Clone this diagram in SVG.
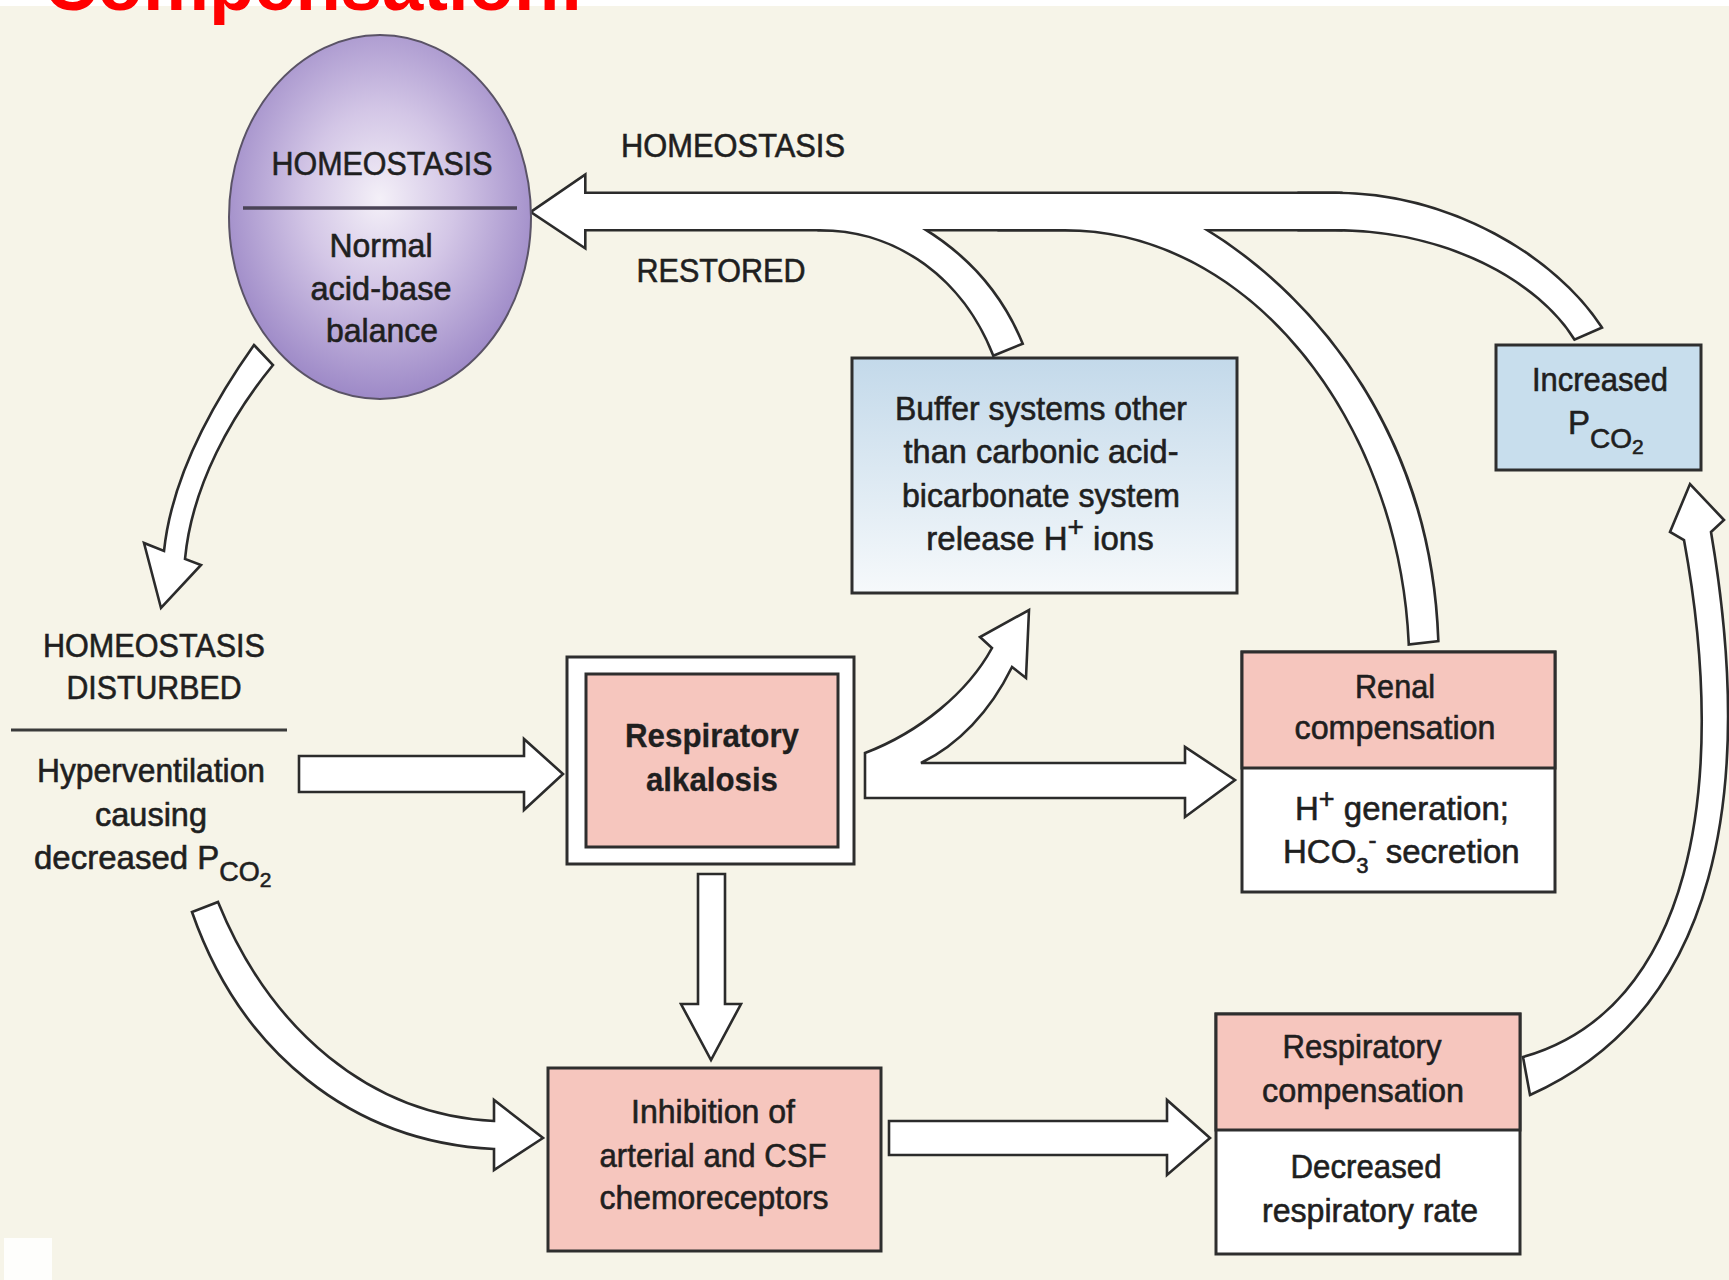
<svg xmlns="http://www.w3.org/2000/svg" xmlns:xlink="http://www.w3.org/1999/xlink" width="1729" height="1280" viewBox="0 0 1729 1280">
<defs>
<style>
.t{font-family:"Liberation Sans",Arial,Helvetica,sans-serif;font-size:33px;fill:#1f1f1f;stroke:#1f1f1f;stroke-width:0.6px;text-anchor:middle}
.s{text-anchor:start}
.b{font-weight:bold;stroke-width:0.3px}
.box{stroke:#2e2e2e;stroke-width:3}
.ar{fill:#fff;stroke:#2b2b2b;stroke-width:2.6;stroke-linejoin:miter}
.pink{fill:#f6c6be}
</style>
<radialGradient id="gCirc" cx="50%" cy="45%" r="55%">
<stop offset="0" stop-color="#f4f0f8"/>
<stop offset="0.45" stop-color="#d3c6e6"/>
<stop offset="1" stop-color="#9d89c7"/>
</radialGradient>
<linearGradient id="gBuf" x1="0" y1="0" x2="0" y2="1">
<stop offset="0" stop-color="#c3d9ea"/>
<stop offset="1" stop-color="#f6f9fb"/>
</linearGradient>
<path id="pMain" d="M 533 212 L 584 177 L 584 194 L 1340 194 L 1340 229 L 584 229 L 584 246 Z"/>
<path id="pBuf" d="M 820 229 C 900 229 965 280 994 354 L 1021 343 C 1000 292 965 255 922 229 L 922 215 L 820 215 Z"/>
<path id="pRen" d="M 1000 229 L 1065 229 C 1250 229 1400 420 1410 643 L 1437 640 C 1430 440 1320 300 1203 229 L 1203 215 L 1000 215 Z"/>
<path id="pInc" d="M 1300 194 L 1335 194 C 1450 194 1555 258 1600 327 L 1575 338 C 1540 282 1450 229 1335 229 L 1300 229 Z"/>
</defs>

<rect x="0" y="0" width="1729" height="1280" fill="#f6f4e8"/>
<rect x="0" y="0" width="1729" height="6" fill="#ffffff"/>
<text x="44" y="10" font-family="Liberation Sans,Arial,sans-serif" font-size="74" font-weight="bold" fill="#ff0000" textLength="540" lengthAdjust="spacingAndGlyphs">Compensation:</text>
<rect x="4" y="1238" width="48" height="42" fill="#ffffff" opacity="0.85"/>

<g id="connectors">
<g id="arrow-restored">
<g fill="#fff" stroke="#2b2b2b" stroke-width="5.2" stroke-linejoin="miter">
<use xlink:href="#pMain"/><use xlink:href="#pBuf"/><use xlink:href="#pRen"/><use xlink:href="#pInc"/>
</g>
<g fill="#fff" stroke="none">
<use xlink:href="#pMain"/><use xlink:href="#pBuf"/><use xlink:href="#pRen"/><use xlink:href="#pInc"/>
</g>
</g>
<path id="arrow-disturbed" class="ar" d="M 254 345 C 215 400 172 475 164 551 L 144 543 L 161 608 L 201 565 L 185 559 C 192 485 232 415 273 365 Z"/>
<path id="arrow-hyper" class="ar" d="M 299 756 L 524 756 L 524 739 L 563 774 L 524 810 L 524 792 L 299 792 Z"/>
<path id="arrow-down" class="ar" d="M 698 874 L 725 874 L 725 1004 L 741 1004 L 711 1060 L 681 1004 L 698 1004 Z"/>
<path id="arrow-inhib" class="ar" d="M 889 1121 L 1167 1121 L 1167 1100 L 1210 1138 L 1167 1175 L 1167 1155 L 889 1155 Z"/>
<path id="arrow-split" class="ar" d="M 865 753 C 920 732 968 692 992 648 L 980 637 L 1029 610 L 1026 678 L 1012 667 C 990 712 958 745 921 763 L 1185 763 L 1185 747 L 1235 780 L 1185 817 L 1185 798 L 865 798 Z"/>
<path id="arrow-pco2" class="ar" d="M 218 902 C 270 1030 370 1115 494 1121 L 494 1100 L 543 1138 L 494 1170 L 494 1149 C 350 1142 240 1050 192 912 Z"/>
<path id="arrow-resp" class="ar" d="M 1523 1057 C 1690 1010 1730 790 1684 540 L 1670 532 L 1690 484 L 1724 520 L 1711 532 C 1755 790 1720 1010 1530 1095 Z"/>
</g>

<g id="node-homeostasis">
<ellipse cx="380" cy="217" rx="151" ry="182" fill="url(#gCirc)" stroke="#5a5366" stroke-width="2"/>
<line x1="243" y1="208" x2="517" y2="208" stroke="#4a4356" stroke-width="3.5"/>
<text class="t" x="382" y="175" font-size="35" textLength="221" lengthAdjust="spacingAndGlyphs">HOMEOSTASIS</text>
<text class="t" x="381" y="257" textLength="103" lengthAdjust="spacingAndGlyphs">Normal</text>
<text class="t" x="381" y="300" textLength="141" lengthAdjust="spacingAndGlyphs">acid-base</text>
<text class="t" x="382" y="342" textLength="112" lengthAdjust="spacingAndGlyphs">balance</text>
</g>

<g id="label-restored">
<text class="t" x="733" y="157" font-size="35" textLength="224" lengthAdjust="spacingAndGlyphs">HOMEOSTASIS</text>
<text class="t" x="721" y="282" font-size="35" textLength="169" lengthAdjust="spacingAndGlyphs">RESTORED</text>
</g>

<g id="node-disturbed">
<text class="t" x="154" y="657" font-size="35" textLength="222" lengthAdjust="spacingAndGlyphs">HOMEOSTASIS</text>
<text class="t" x="154" y="699" font-size="35" textLength="175" lengthAdjust="spacingAndGlyphs">DISTURBED</text>
<line x1="11" y1="730" x2="287" y2="730" stroke="#3a3a3a" stroke-width="3"/>
<text class="t" x="151" y="782" textLength="228" lengthAdjust="spacingAndGlyphs">Hyperventilation</text>
<text class="t" x="151" y="826" textLength="112" lengthAdjust="spacingAndGlyphs">causing</text>
<text class="t s" x="34" y="869">decreased P<tspan style="font-size:27px" dy="12">CO</tspan><tspan style="font-size:21px" dy="6">2</tspan></text>
</g>

<g id="node-alkalosis">
<rect x="567" y="657" width="287" height="207" fill="#ffffff" class="box"/>
<rect x="586" y="674" width="252" height="173" class="box pink"/>
<text class="t b" x="712" y="747" textLength="174" lengthAdjust="spacingAndGlyphs">Respiratory</text>
<text class="t b" x="712" y="791" textLength="132" lengthAdjust="spacingAndGlyphs">alkalosis</text>
</g>

<g id="node-buffer">
<rect x="852" y="358" width="385" height="235" fill="url(#gBuf)" class="box"/>
<text class="t" x="1041" y="420" textLength="292" lengthAdjust="spacingAndGlyphs">Buffer systems other</text>
<text class="t" x="1041" y="463" textLength="275" lengthAdjust="spacingAndGlyphs">than carbonic acid-</text>
<text class="t" x="1041" y="507" textLength="278" lengthAdjust="spacingAndGlyphs">bicarbonate system</text>
<text class="t" x="1040" y="550">release H<tspan style="font-size:28px" dy="-14">+</tspan><tspan dy="14"> ions</tspan></text>
</g>

<g id="node-increased">
<rect x="1496" y="345" width="205" height="125" fill="#c8deed" class="box"/>
<text class="t" x="1600" y="391" textLength="136" lengthAdjust="spacingAndGlyphs">Increased</text>
<text class="t s" x="1568" y="434">P<tspan style="font-size:28px" dy="14">CO</tspan><tspan style="font-size:21px" dy="6">2</tspan></text>
</g>

<g id="node-renal">
<rect x="1242" y="652" width="313" height="240" fill="#ffffff" class="box"/>
<rect x="1242" y="652" width="313" height="116" class="box pink"/>
<text class="t" x="1395" y="698" textLength="80" lengthAdjust="spacingAndGlyphs">Renal</text>
<text class="t" x="1395" y="739" textLength="201" lengthAdjust="spacingAndGlyphs">compensation</text>
<text class="t s" x="1295" y="820">H<tspan style="font-size:27px" dy="-12">+</tspan><tspan dy="12"> generation;</tspan></text>
<text class="t s" x="1283" y="863">HCO<tspan style="font-size:22px" dy="10">3</tspan><tspan style="font-size:24px" dy="-25">-</tspan><tspan dy="15"> secretion</tspan></text>
</g>

<g id="node-inhibition">
<rect x="548" y="1068" width="333" height="183" class="box pink"/>
<text class="t" x="713" y="1123" textLength="164" lengthAdjust="spacingAndGlyphs">Inhibition of</text>
<text class="t" x="713" y="1167" textLength="227" lengthAdjust="spacingAndGlyphs">arterial and CSF</text>
<text class="t" x="714" y="1209" textLength="229" lengthAdjust="spacingAndGlyphs">chemoreceptors</text>
</g>

<g id="node-respcomp">
<rect x="1216" y="1014" width="304" height="240" fill="#ffffff" class="box"/>
<rect x="1216" y="1014" width="304" height="116" class="box pink"/>
<text class="t" x="1362" y="1058" textLength="159" lengthAdjust="spacingAndGlyphs">Respiratory</text>
<text class="t" x="1363" y="1102" textLength="202" lengthAdjust="spacingAndGlyphs">compensation</text>
<text class="t" x="1366" y="1178" textLength="151" lengthAdjust="spacingAndGlyphs">Decreased</text>
<text class="t" x="1370" y="1222" textLength="216" lengthAdjust="spacingAndGlyphs">respiratory rate</text>
</g>
</svg>
